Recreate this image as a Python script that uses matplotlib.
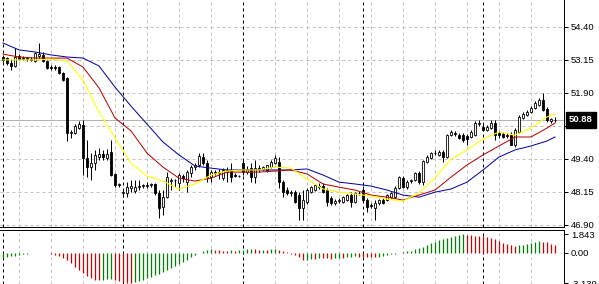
import matplotlib
matplotlib.use("Agg")
import matplotlib.pyplot as plt

# OHLC, one bar per column
opens = [
    53.26, 53.22, 53.03, 52.92, 53.30, 53.22, 53.18, 53.18, 53.11, 53.30,
    53.34, 53.11, 52.88, 52.88, 52.88, 52.65, 52.46, 50.38, 50.38, 50.57,
    50.68, 49.43, 49.09, 49.24, 49.47, 49.58, 49.43, 49.66, 48.83, 48.41,
    48.11, 48.11, 48.30, 48.18, 48.33, 48.37, 48.37, 48.41, 48.45, 48.11,
    47.58, 47.95, 48.56, 48.60, 48.48, 48.75, 48.52, 48.86, 49.09, 49.17,
    49.47, 49.24, 48.71, 48.90, 48.86, 48.67, 48.90, 48.98, 48.79, 48.75,
    49.24, 48.90, 49.05, 48.71, 49.05, 49.02, 48.98, 49.09, 49.24, 49.28,
    48.52, 48.22, 48.11, 48.14, 48.03, 47.54, 47.76, 48.14, 48.22, 48.33,
    48.37, 48.22, 47.92, 47.73, 47.80, 47.76, 47.84, 48.03, 47.76, 48.11,
    48.22, 47.84, 47.65, 47.54, 47.73, 47.84, 47.84, 47.95, 47.95, 48.30,
    48.67, 48.33, 48.56, 48.60, 48.86, 48.52, 49.28, 49.43, 49.62, 49.55,
    49.66, 49.47, 50.30, 50.38, 50.30, 50.30, 50.27, 50.23, 50.30, 50.72,
    50.61, 50.49, 50.57, 50.76, 50.38, 50.34, 50.30, 50.30, 49.92, 50.42,
    50.95, 51.06, 51.18, 51.33, 51.44, 51.63, 51.29, 50.83, 50.87]
highs = [
    53.34, 53.26, 53.18, 53.60, 53.37, 53.30, 53.26, 53.26, 53.45, 53.79,
    53.45, 53.15, 52.96, 52.96, 52.92, 52.69, 52.50, 50.49, 50.72, 50.83,
    50.87, 50.11, 49.62, 49.74, 49.81, 49.74, 49.77, 50.11, 48.86, 48.48,
    48.26, 48.52, 48.60, 48.60, 48.60, 48.45, 48.52, 48.48, 48.48, 48.22,
    48.22, 48.90, 48.67, 48.64, 48.86, 48.83, 48.98, 49.17, 49.24, 49.62,
    49.62, 49.36, 48.98, 48.98, 49.02, 49.05, 49.09, 49.24, 48.86, 48.79,
    49.36, 49.13, 49.24, 49.36, 49.17, 49.13, 49.17, 49.36, 49.55, 49.47,
    48.60, 48.33, 48.22, 48.22, 48.14, 48.22, 48.30, 48.37, 48.45, 48.48,
    48.48, 48.30, 47.99, 47.88, 47.92, 47.99, 48.07, 48.14, 48.14, 48.18,
    48.37, 47.92, 47.73, 47.84, 47.88, 47.92, 48.07, 48.14, 48.37, 48.75,
    48.75, 48.60, 48.64, 48.90, 48.94, 49.36, 49.55, 49.66, 49.74, 49.74,
    49.74, 50.34, 50.49, 50.46, 50.38, 50.38, 50.34, 50.49, 50.83, 50.87,
    50.72, 50.68, 50.87, 50.87, 50.46, 50.42, 50.38, 50.42, 50.57, 51.06,
    51.18, 51.25, 51.40, 51.59, 51.71, 51.90, 51.36, 50.95, 50.99]
lows = [
    53.07, 52.96, 52.77, 52.88, 53.15, 53.15, 53.11, 53.11, 53.07, 53.22,
    53.07, 52.81, 52.77, 52.77, 52.62, 52.35, 50.08, 50.19, 50.34, 50.53,
    48.79, 48.71, 48.60, 48.98, 49.36, 49.36, 49.36, 48.75, 48.33, 48.33,
    47.95, 47.95, 48.14, 48.11, 48.22, 48.30, 48.30, 48.33, 48.03, 47.16,
    47.27, 47.92, 48.22, 48.33, 48.22, 48.52, 48.14, 48.71, 48.98, 49.09,
    49.17, 48.52, 48.52, 48.79, 48.64, 48.60, 48.52, 48.52, 48.71, 48.71,
    48.79, 48.83, 48.52, 48.48, 48.90, 48.98, 48.90, 49.05, 49.20, 48.30,
    47.95, 48.03, 47.99, 47.73, 47.08, 47.08, 47.69, 48.11, 48.18, 48.26,
    48.11, 47.61, 47.65, 47.65, 47.73, 47.73, 47.80, 47.58, 47.73, 48.03,
    47.80, 47.39, 47.54, 47.08, 47.65, 47.69, 47.80, 47.92, 47.92, 48.26,
    48.30, 48.26, 48.48, 48.56, 48.45, 48.41, 49.24, 49.39, 49.55, 49.51,
    49.28, 49.43, 50.27, 50.27, 50.15, 50.04, 49.92, 50.19, 50.27, 50.64,
    50.46, 50.46, 50.53, 50.11, 50.19, 50.19, 50.19, 49.92, 49.85, 50.38,
    50.91, 51.02, 51.14, 51.29, 51.40, 51.21, 50.80, 50.76, 50.80]
closes = [
    53.15, 53.03, 52.92, 53.26, 53.18, 53.18, 53.22, 53.15, 53.41, 53.37,
    53.11, 52.84, 52.84, 52.84, 52.65, 52.39, 50.38, 50.42, 50.64, 50.72,
    49.43, 49.09, 49.24, 49.55, 49.58, 49.47, 49.58, 48.79, 48.41, 48.45,
    48.14, 48.33, 48.37, 48.33, 48.37, 48.41, 48.41, 48.45, 48.11, 47.54,
    47.95, 48.71, 48.60, 48.61, 48.79, 48.67, 48.90, 49.09, 49.17, 49.51,
    49.24, 48.71, 48.90, 48.86, 48.90, 48.98, 48.98, 48.71, 48.75, 48.76,
    48.90, 49.02, 48.71, 49.05, 49.02, 49.09, 49.17, 49.28, 49.43, 48.52,
    48.14, 48.11, 48.14, 47.76, 47.54, 47.84, 48.22, 48.33, 48.41, 48.37,
    48.14, 47.76, 47.73, 47.80, 47.84, 47.95, 48.03, 47.76, 48.11, 48.12,
    47.84, 47.58, 47.61, 47.73, 47.84, 47.73, 48.03, 48.11, 48.30, 48.71,
    48.33, 48.52, 48.60, 48.86, 48.52, 49.32, 49.47, 49.62, 49.63, 49.66,
    49.47, 50.30, 50.42, 50.34, 50.19, 50.11, 50.15, 50.42, 50.76, 50.76,
    50.49, 50.61, 50.76, 50.30, 50.30, 50.23, 50.27, 49.92, 50.49, 50.99,
    51.10, 51.18, 51.33, 51.52, 51.63, 51.25, 50.87, 50.91, 50.88]

# moving averages at every 4th bar
ma_bars = [0, 4, 8, 12, 16, 20, 24, 28, 32, 36, 40, 44, 48, 52, 56, 60, 64, 68,
           72, 76, 80, 84, 88, 92, 96, 100, 104, 108, 112, 116, 120, 124, 128,
           132, 136, 138]
ma_fast = [53.15, 53.15, 53.15, 53.18, 53.11, 52.39, 51.18, 50.19, 49.24, 48.75,
           48.56, 48.26, 48.45, 48.79, 48.94, 48.98, 48.98, 49.09, 49.05, 48.64,
           48.26, 48.14, 48.07, 47.99, 47.88, 47.80, 48.11, 48.67, 49.39, 49.74,
           50.15, 50.42, 50.30, 50.57, 50.99, 51.10]
ma_mid = [53.37, 53.26, 53.22, 53.22, 53.22, 52.88, 52.09, 50.95, 50.46, 49.62,
          49.09, 48.67, 48.56, 48.67, 48.90, 48.90, 48.90, 48.94, 48.98, 48.83,
          48.45, 48.33, 48.22, 48.03, 47.95, 47.84, 48.03, 48.22, 48.71, 49.17,
          49.55, 49.89, 50.23, 50.23, 50.57, 50.76]
ma_slow = [53.79, 53.53, 53.45, 53.34, 53.26, 53.22, 52.92, 52.12, 51.40, 50.72,
           50.04, 49.55, 49.13, 49.05, 48.98, 48.98, 48.98, 48.98, 48.98, 49.02,
           48.79, 48.52, 48.45, 48.37, 48.22, 48.03, 47.95, 48.14, 48.26, 48.52,
           48.98, 49.47, 49.74, 49.89, 50.08, 50.23]

# oscillator histogram (lower window)
osc = [
    -0.52, -0.45, -0.39, -0.32, -0.26, -0.19, -0.13, -0.06, -0.04, -0.02,
    -0.03, -0.05, -0.13, -0.23, -0.36, -0.52, -0.78, -1.10, -1.42, -1.74,
    -2.07, -2.39, -2.62, -2.75, -2.81, -2.75, -2.68, -2.65, -2.78, -2.87,
    -2.97, -3.04, -3.139, -3.00, -2.87, -2.75, -2.62, -2.45, -2.29, -2.13,
    -1.97, -1.78, -1.58, -1.39, -1.16, -0.94, -0.71, -0.45, -0.23, -0.08,
    0.20, 0.30, 0.33, 0.28, 0.24, 0.20, 0.18, 0.22, 0.19, 0.21,
    0.30, 0.33, 0.35, 0.31, 0.28, 0.30, 0.27, 0.32, 0.36, 0.30,
    0.20, 0.06, -0.13, -0.26, -0.45, -0.77, -0.71, -0.61, -0.65, -0.52,
    -0.55, -0.58, -0.65, -0.58, -0.52, -0.55, -0.45, -0.42, -0.39, -0.41,
    -0.45, -0.47, -0.48, -0.50, -0.42, -0.32, -0.26, -0.19, -0.13, -0.06,
    0.06, 0.13, 0.19, 0.32, 0.45, 0.58, 0.78, 0.97, 1.10, 1.23,
    1.33, 1.42, 1.55, 1.65, 1.74, 1.843, 1.78, 1.74, 1.72, 1.68,
    1.65, 1.62, 1.49, 1.33, 1.16, 1.00, 0.84, 0.74, 0.68, 0.71,
    0.78, 0.90, 1.00, 1.10, 1.16, 1.10, 1.03, 0.90, 0.78]

price_ticks = [54.40, 53.15, 51.90, 50.65, 49.40, 48.15, 46.90]
osc_ticks = [1.843, 0.0, -3.139]
osc_labels = ['1.843', '0.00', '-3.139']
last_price = 50.88
grid_bars = [4, 12, 20, 28, 36, 44, 52, 60, 68, 76, 84, 92, 100, 108, 116, 124, 132]
sep_bars = [0, 30, 60, 90, 120]

px = 0.72  # one pixel at dpi 100
grid_col = '#c0c0c0'
dash = (0, (3, 3))
plt.rcParams['font.family'] = ['Liberation Sans', 'DejaVu Sans']

fig = plt.figure(figsize=(5.99, 2.84), dpi=100)
W, H = 599, 284
ax = fig.add_axes([0, 1 - 227 / H, 564 / W, 227 / H])
ax2 = fig.add_axes([0, 0, 564 / W, 54 / H])

n = len(closes)
xs = list(range(n))

# main window
ax.set_xlim(-0.75, 140.25)
ax.set_ylim(46.82, 55.42)
ax.set_xticks(grid_bars)
ax.set_yticks(price_ticks)
ax.set_yticklabels(['%.2f' % t for t in price_ticks])
ax.grid(True, color=grid_col, ls=dash, lw=px)
ax.set_axisbelow(True)
for s in sep_bars:
    ax.axvline(s, color='black', ls=dash, lw=px, zorder=1)
ax.axhline(last_price, color='#b4b4b4', lw=px, zorder=1)

ax.vlines(xs, lows, highs, color='black', lw=px, zorder=2)
bottoms = [min(o, c) for o, c in zip(opens, closes)]
heights = [abs(c - o) for o, c in zip(opens, closes)]
faces = ['white' if c >= o else 'black' for o, c in zip(opens, closes)]
ax.bar(xs, heights, bottom=bottoms, width=0.6, color=faces,
       edgecolor='black', linewidth=0.6, zorder=2.2)

ax.plot(ma_bars, ma_slow, color='#0000a0', lw=px, zorder=3)
ax.plot(ma_bars, ma_mid, color='#b40000', lw=px, zorder=3)
ax.plot(ma_bars, ma_fast, color='#ffff00', lw=0.8, zorder=3)

ax.yaxis.tick_right()
ax.tick_params(axis='y', length=3, width=px, pad=2, labelsize=6.8)
ax.tick_params(axis='x', length=0, labelbottom=False)
for side in ['top', 'left']:
    ax.spines[side].set_visible(False)
for side in ['right', 'bottom']:
    ax.spines[side].set_linewidth(px)

ax.annotate('%.2f' % last_price, xy=(1, last_price),
            xycoords=('axes fraction', 'data'), xytext=(5, 0),
            textcoords='offset pixels', color='white', fontsize=6.8,
            fontweight='bold', va='center', ha='left',
            bbox=dict(boxstyle='square,pad=0.35', fc='black', ec='black'),
            annotation_clip=False, zorder=10)

# lower window
cols = []
for i, v in enumerate(osc):
    if i == 0 or v > osc[i - 1]:
        cols.append('#008000')
    else:
        cols.append('#cc0000')
ax2.set_xlim(-0.75, 140.25)
ax2.set_ylim(-3.19, 2.28)
ax2.set_xticks(grid_bars)
ax2.xaxis.grid(True, color=grid_col, ls=dash, lw=px)
ax2.set_axisbelow(True)
for s in sep_bars:
    ax2.axvline(s, color='black', ls=dash, lw=px, zorder=1)
ax2.vlines(xs, 0, osc, colors=cols, lw=0.9, zorder=2)
ax2.set_yticks(osc_ticks)
ax2.set_yticklabels(osc_labels)
ax2.yaxis.tick_right()
ax2.tick_params(axis='y', length=3, width=px, pad=2, labelsize=6.8)
ax2.tick_params(axis='x', length=0, labelbottom=False)
for side in ['bottom', 'left']:
    ax2.spines[side].set_visible(False)
for side in ['right', 'top']:
    ax2.spines[side].set_linewidth(px)

fig.savefig('out.png', dpi=100, facecolor='white')
plt.close('all')
